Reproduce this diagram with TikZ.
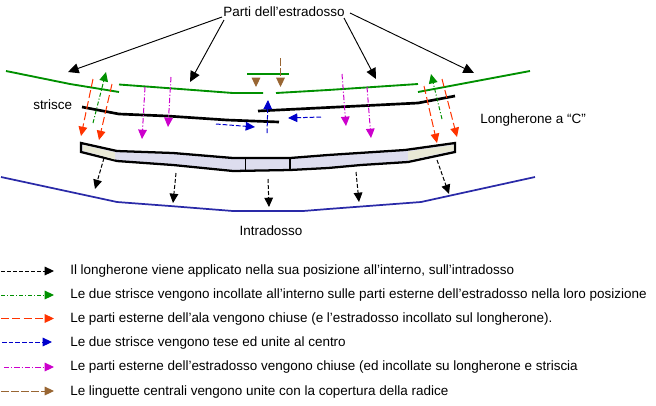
\documentclass[tikz,border=0pt]{standalone}
\usepackage{fontspec}
\setmainfont{Liberation Sans}
\usetikzlibrary{arrows.meta}
\definecolor{cGreen}{HTML}{009000}
\definecolor{cRed}{HTML}{FF3300}
\definecolor{cMag}{HTML}{CC00CC}
\definecolor{cBlue}{HTML}{0000CC}
\definecolor{cBrown}{HTML}{996633}
\definecolor{cInd}{HTML}{2A2AA8}
\definecolor{cSpar}{HTML}{DDDDEE}
\definecolor{cSparEnd}{HTML}{E9E9D6}
\tikzset{
 tip/.style={-{Triangle[length=7pt,width=6.5pt]}},
 bigtip/.style={-{Triangle[length=8pt,width=7.5pt]},line width=0.7pt,black},
 blk/.style={tip,black,line width=0.75pt,dash pattern=on 3pt off 1.5pt},
 grn/.style={tip,cGreen,line width=0.75pt,dash pattern=on 3pt off 1.5pt on 0.8pt off 1.5pt},
 redd/.style={tip,cRed,line width=0.75pt,dash pattern=on 6pt off 2.5pt},
 blu/.style={tip,cBlue,line width=0.75pt,dash pattern=on 3.5pt off 1.5pt},
 mag/.style={tip,cMag,line width=0.75pt,dash pattern=on 4pt off 1.5pt on 0.8pt off 1.5pt},
 brw/.style={tip,cBrown,line width=0.75pt,dash pattern=on 6pt off 1.5pt},
 skin/.style={cGreen,line width=1.4pt},
 strip/.style={black,line width=2pt},
 intra/.style={cInd,line width=1.3pt},
 lab/.style={font=\fontsize{10.1pt}{12pt}\selectfont,inner sep=0pt,text=black},
 leg/.style={font=\fontsize{10.1pt}{12pt}\selectfont,inner sep=0pt,anchor=west,text=black},
}
\newcommand{\link}[5]{\coordinate (#2a) at (#3); \coordinate (#2b) at (#4); \draw[#1] (#2#5a) -- (#2#5b);}
\begin{document}
\begin{tikzpicture}[x=0.75pt,y=-0.75pt]
\useasboundingbox (0,0) rectangle (656,405);
% skins
\draw[skin] (6,71) -- (70,84) -- (119,92);
\draw[skin] (119,84.5) -- (180,89) -- (233,93) -- (263,93);
\draw[skin] (276,93) -- (328,90) -- (418,84);
\draw[skin] (418,92) -- (530,71);
\draw[skin] (247,74) -- (289,74);
% strips
\draw[strip] (82,107) -- (119,114) -- (167,116) -- (227,120) -- (279,122);
\draw[strip] (258,111) -- (328,107.5) -- (418,103) -- (455,96);
% spar
\draw[black,line width=1.7pt,fill=cSpar]
 (81,143) -- (117,151) -- (173,153) -- (233,158) -- (290,158) -- (328,155) -- (405,150) -- (455,143)
 -- (455,152) -- (408,162) -- (361,165) -- (328,168) -- (290,170) -- (233,171) -- (173,165) -- (117,161) -- (81,152) -- cycle;
\fill[cSparEnd] (83,145) -- (115,152.5) -- (115,159.5) -- (83,150.5) -- cycle;
\fill[cSparEnd] (453.5,145) -- (408,151.5) -- (408,160.5) -- (453.5,150.5) -- cycle;
\draw[black,line width=1pt] (245.5,158) -- (245.5,170.5) (290,158) -- (290,170.5);
% intrados
\draw[intra] (1,177) -- (117,202) -- (170,206) -- (233,211) -- (303,211) -- (328,209) -- (421,202) -- (535,177);
% labels
\node[lab,anchor=center] (parti) at (284,12) {Parti dell’estradosso};
\node[lab,anchor=west] (strisce) at (33,105) {strisce};
\node[lab,anchor=west] (longh) at (480,120) {Longherone a “C”};
\node[lab,anchor=center] (intrad) at (271,231) {Intradosso};
% leaders
\coordinate (p1) at (68,72); \coordinate (p2) at (190,82); \coordinate (p3) at (376,79); \coordinate (p4) at (474,73);
\draw[bigtip] (222,17) -- (p1);
\draw[bigtip] (224,20) -- (p2);
\draw[bigtip] (344,18) -- (p3);
\draw[bigtip] (350,13) -- (p4);
% red
\link{redd}{ra}{93,79}{81,136}{}
\link{redd}{rb}{112,84}{99,140}{}
\link{redd}{rc}{424,86}{437,143}{}
\link{redd}{rd}{442,79}{457,137}{}
% green
\link{grn}{ga}{93,123}{106,72}{}
\link{grn}{gb}{442,119}{431,74}{}
% magenta
\link{mag}{ma}{171,77}{168,127}{}
\link{mag}{mb}{145,87}{142,139}{}
\link{mag}{mc}{342,74}{346,126}{}
\link{mag}{md}{367,87}{371,138}{}
% blue
\link{blu}{ba}{267,133}{268,100}{}
\link{blu}{bb}{216,124}{255,127}{}
\link{blu}{bc}{321,117}{288,118}{}
% brown
\link{brw}{bra}{280.5,58}{280.5,87}{}
\link{brw}{brb}{256,78}{256,87}{}
% black
\link{blk}{ka}{104,158}{95,189}{}
\link{blk}{kb}{176,173}{173,203}{}
\link{blk}{kc}{268,179}{269,207}{}
\link{blk}{kd}{356,172}{359,202}{}
\link{blk}{ke}{437,160}{449,194}{}
% legend
\node[leg] (t1) at (70,271) {Il longherone viene applicato nella sua posizione all’interno, sull’intradosso};
\node[leg] (t2) at (70,295) {Le due strisce vengono incollate all’interno sulle parti esterne dell’estradosso nella loro posizione};
\node[leg] (t3) at (70,319) {Le parti esterne dell’ala vengono chiuse (e l’estradosso incollato sul longherone).};
\node[leg] (t4) at (70,343) {Le due strisce vengono tese ed unite al centro};
\node[leg] (t5) at (70,367) {Le parti esterne dell’estradosso vengono chiuse (ed incollate su longherone e striscia};
\node[leg] (t6) at (70,392) {Le linguette centrali vengono unite con la copertura della radice};
\link{blk}{la}{1,271}{54,271}{}
\link{grn}{lb}{1,295}{54,295}{}
\link{redd}{lc}{1,318.5}{54,318.5}{}
\link{blu}{ld}{2,342}{52,342}{}
\link{mag}{le}{4,367}{54,367}{}
\link{brw}{lf}{1,391}{54,391}{}
\end{tikzpicture}
\end{document}
